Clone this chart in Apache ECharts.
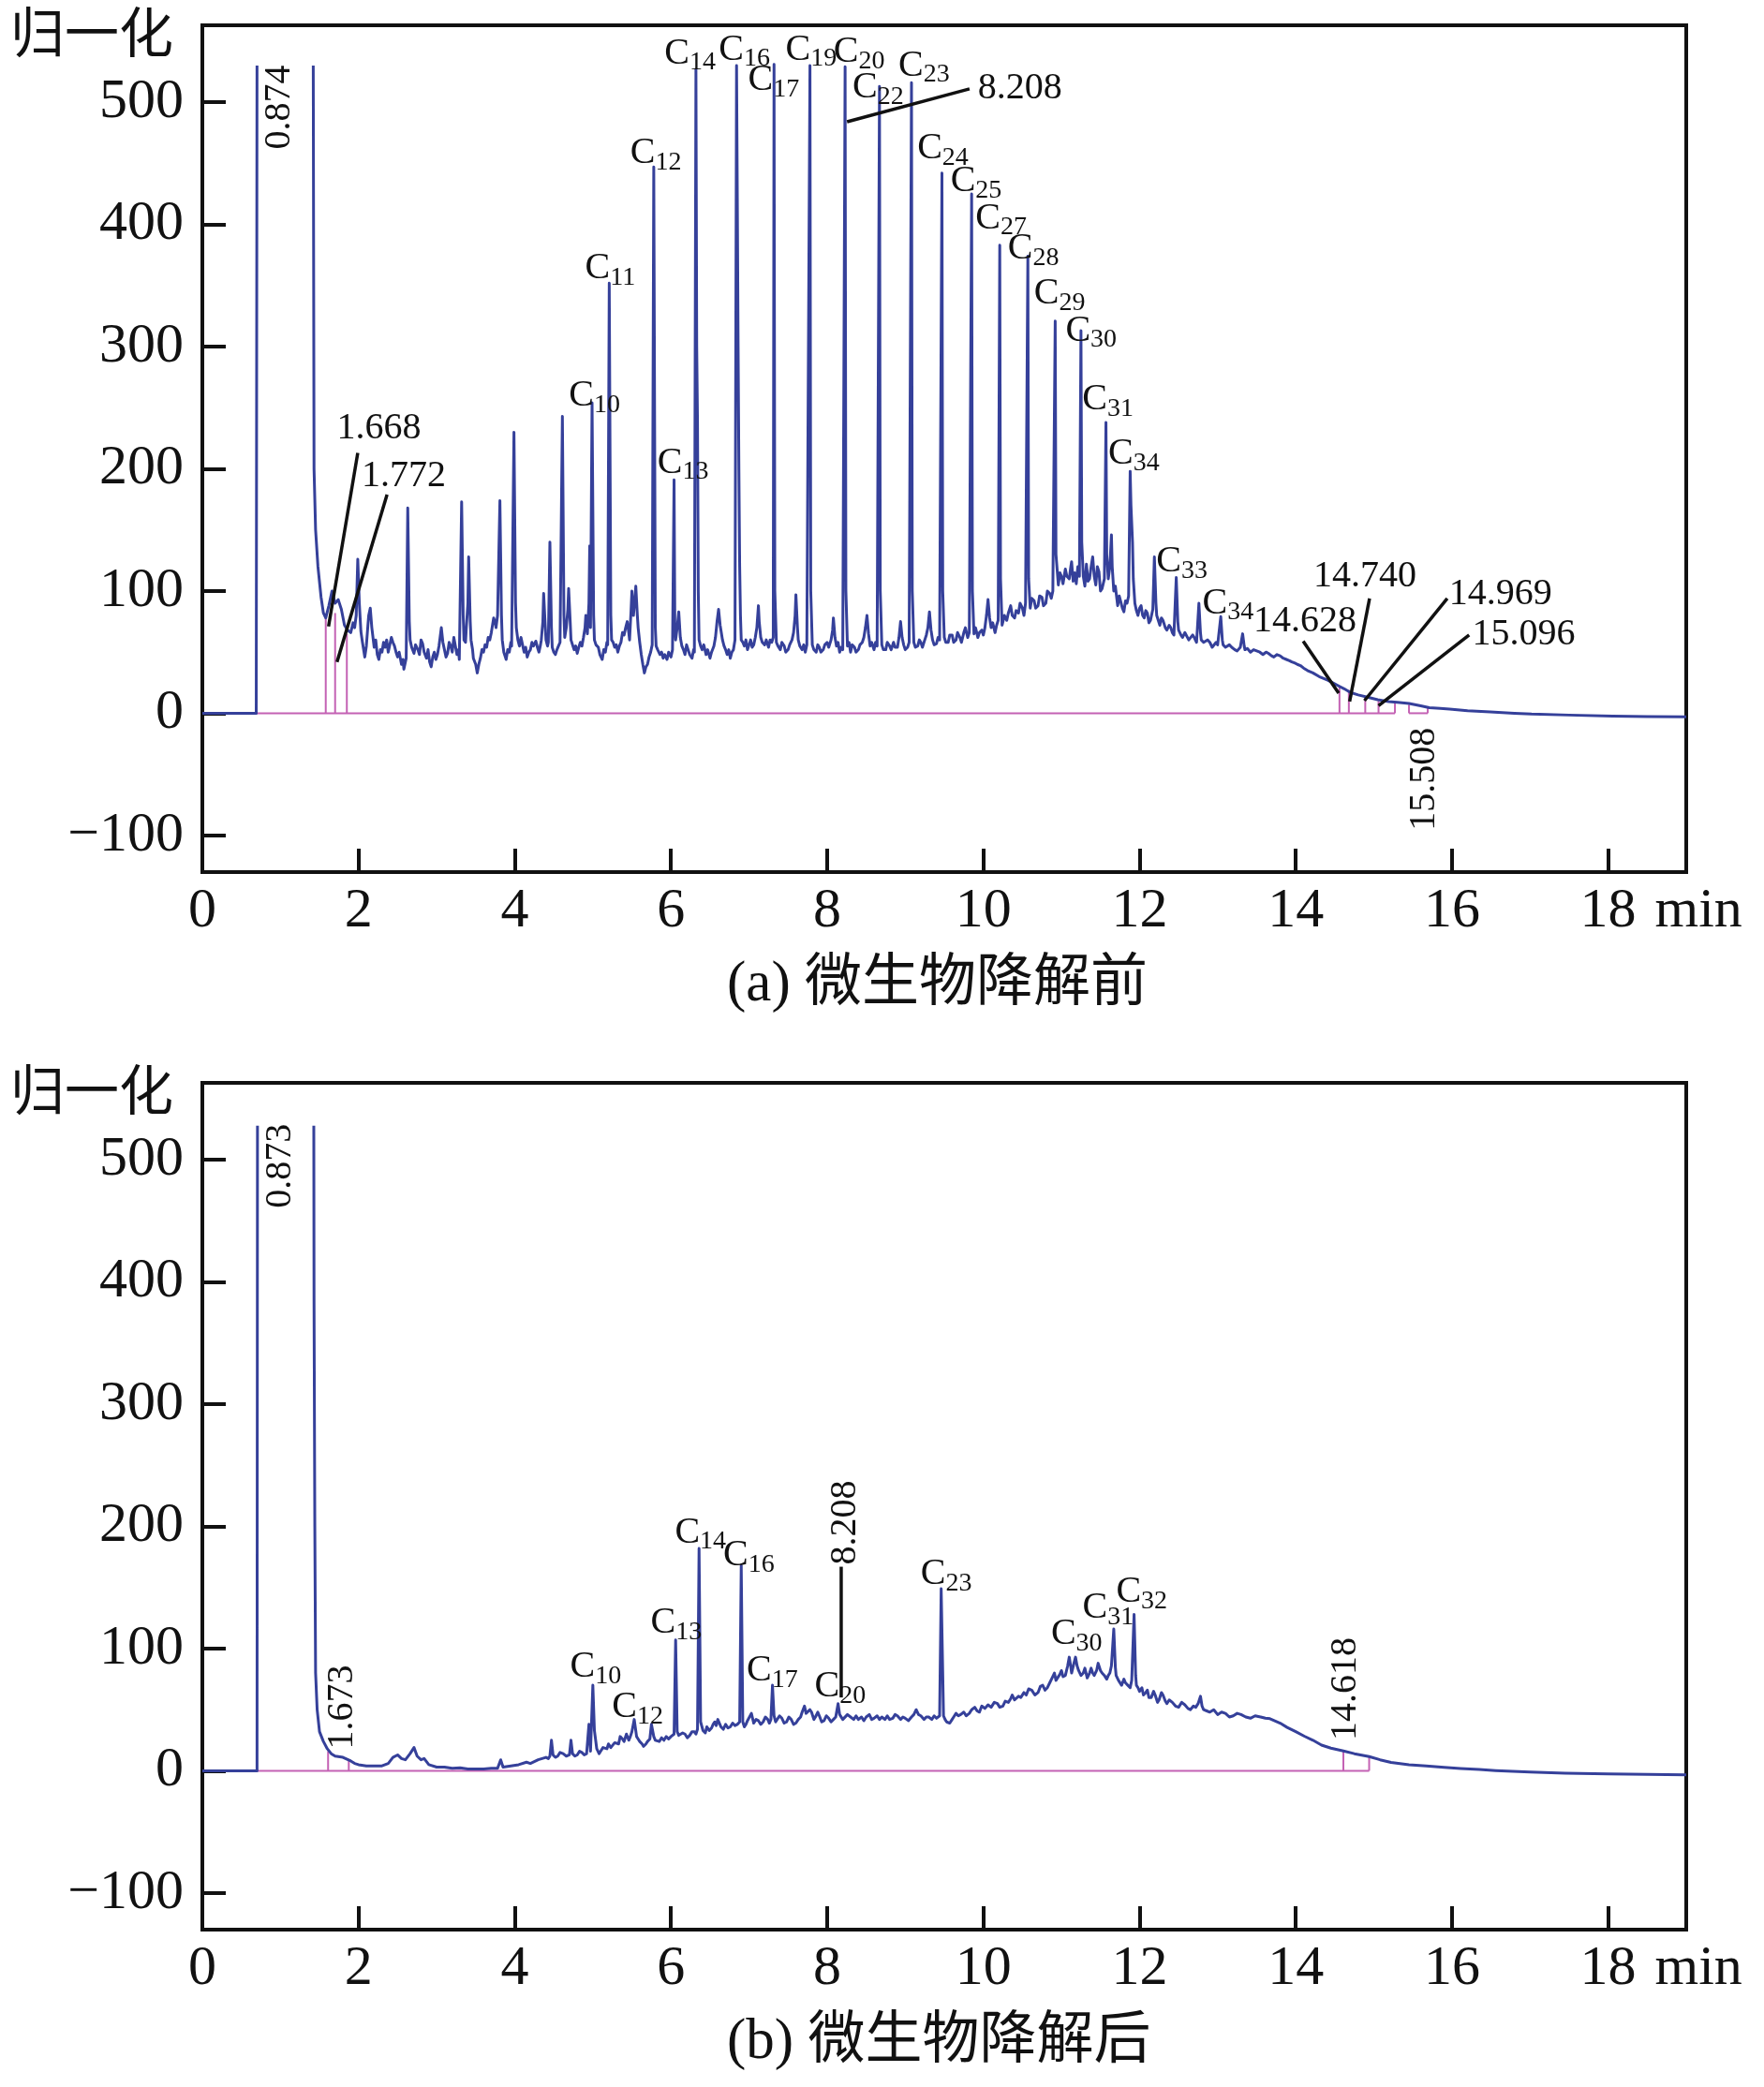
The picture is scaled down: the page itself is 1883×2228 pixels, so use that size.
<!DOCTYPE html>
<html>
<head>
<meta charset="utf-8">
<script src="https://cdn.jsdelivr.net/npm/echarts@6/dist/echarts.min.js"></script>
<style>
  html, body { margin: 0; padding: 0; background: #fff; }
  #chart { width: 1883px; height: 2228px; }
</style>
</head>
<body>
<div id="chart"></div>
<script>
// tick values
const xTicks = [2, 4, 6, 8, 10, 12, 14, 16, 18]
const xLabels = [0, 2, 4, 6, 8, 10, 12, 14, 16, 18]
const yTicks = [-100, 0, 100, 200, 300, 400, 500]

// (a) before degradation: retention time (min), normalised signal
const traceA = [
  [0, 0], [0.69, 0], [0.70, 530], [1.0, null], [1.42, 530], [1.43, 200], [1.45, 150], [1.48, 120], [1.52, 95],
  [1.55, 82], [1.58, 78], [1.62, 88], [1.66, 100], [1.70, 90], [1.74, 93], [1.78, 85], [1.82, 72], [1.86, 68],
  [1.90, 66], [1.93, 74], [1.95, 70], [1.97, 80], [1.99, 126], [2.01, 90], [2.03, 67], [2.05, 58], [2.08, 46],
  [2.10, 55], [2.12, 72], [2.13, 80], [2.15, 86], [2.17, 70], [2.20, 54], [2.22, 60], [2.24, 48], [2.26, 44],
  [2.28, 52], [2.30, 50], [2.32, 58], [2.34, 54], [2.36, 60], [2.38, 50], [2.40, 56], [2.42, 62], [2.44, 58],
  [2.46, 55], [2.48, 50], [2.50, 46], [2.52, 50], [2.55, 40], [2.57, 44], [2.58, 36], [2.60, 42], [2.61, 45],
  [2.63, 168], [2.65, 75], [2.66, 60], [2.68, 54], [2.71, 49], [2.73, 56], [2.76, 52], [2.78, 48], [2.80, 60],
  [2.82, 57], [2.84, 50], [2.87, 45], [2.89, 52], [2.91, 42], [2.93, 38], [2.95, 46], [2.97, 50], [2.99, 44],
  [3.01, 48], [3.03, 55], [3.06, 70], [3.08, 58], [3.10, 52], [3.12, 46], [3.14, 49], [3.16, 58], [3.18, 55],
  [3.20, 50], [3.22, 62], [3.24, 55], [3.26, 48], [3.28, 52], [3.29, 44], [3.32, 173], [3.34, 80], [3.35, 60],
  [3.37, 58], [3.38, 70], [3.40, 90], [3.41, 128], [3.43, 75], [3.44, 60], [3.46, 52], [3.47, 45], [3.50, 40],
  [3.52, 33], [3.54, 40], [3.56, 45], [3.58, 52], [3.60, 50], [3.62, 56], [3.64, 54], [3.66, 62], [3.68, 60],
  [3.70, 66], [3.73, 78], [3.75, 74], [3.76, 70], [3.78, 80], [3.81, 174], [3.83, 80], [3.84, 60], [3.86, 50],
  [3.89, 44], [3.91, 52], [3.93, 50], [3.95, 58], [3.96, 55], [3.99, 230], [4.01, 90], [4.02, 70], [4.04, 60],
  [4.06, 55], [4.08, 62], [4.10, 56], [4.12, 50], [4.14, 54], [4.16, 46], [4.18, 50], [4.20, 52], [4.22, 58],
  [4.24, 55], [4.27, 59], [4.29, 54], [4.31, 50], [4.33, 56], [4.34, 60], [4.36, 75], [4.37, 98], [4.39, 72],
  [4.40, 60], [4.42, 55], [4.43, 58], [4.45, 140], [4.47, 70], [4.48, 54], [4.50, 50], [4.52, 48], [4.54, 52],
  [4.56, 55], [4.58, 58], [4.61, 243], [4.63, 80], [4.64, 62], [4.66, 70], [4.68, 85], [4.69, 102], [4.71, 75],
  [4.72, 60], [4.74, 56], [4.76, 52], [4.78, 55], [4.80, 49], [4.82, 54], [4.84, 58], [4.86, 55], [4.88, 62],
  [4.90, 70], [4.91, 80], [4.93, 65], [4.95, 90], [4.96, 137], [4.97, 70], [4.99, 254], [5.01, 80], [5.02, 60],
  [5.04, 56], [5.07, 54], [5.09, 48], [5.12, 44], [5.14, 52], [5.16, 50], [5.18, 58], [5.19, 56], [5.21, 352],
  [5.23, 80], [5.24, 60], [5.26, 58], [5.28, 54], [5.30, 56], [5.32, 50], [5.34, 55], [5.36, 58], [5.38, 66],
  [5.40, 64], [5.42, 70], [5.44, 75], [5.46, 66], [5.47, 60], [5.49, 85], [5.50, 100], [5.52, 80], [5.54, 95],
  [5.55, 104], [5.57, 80], [5.58, 70], [5.60, 58], [5.62, 48], [5.64, 40], [5.66, 33], [5.68, 38], [5.70, 40],
  [5.72, 46], [5.74, 50], [5.76, 56], [5.78, 447], [5.80, 70], [5.81, 55], [5.83, 52], [5.86, 48], [5.88, 50],
  [5.90, 45], [5.92, 48], [5.95, 44], [5.97, 50], [6.00, 46], [6.02, 52], [6.04, 191], [6.05, 70], [6.06, 60],
  [6.08, 70], [6.10, 83], [6.12, 62], [6.14, 55], [6.16, 52], [6.18, 48], [6.20, 56], [6.22, 52], [6.24, 48],
  [6.27, 45], [6.29, 52], [6.30, 50], [6.32, 527], [6.33, 300], [6.34, 239], [6.35, 100], [6.36, 60], [6.38, 55],
  [6.40, 52], [6.42, 56], [6.45, 48], [6.47, 52], [6.50, 45], [6.52, 50], [6.55, 55], [6.57, 62], [6.59, 75],
  [6.61, 85], [6.63, 72], [6.64, 68], [6.66, 60], [6.68, 55], [6.70, 52], [6.72, 48], [6.74, 52], [6.76, 45],
  [6.78, 50], [6.80, 52], [6.82, 60], [6.84, 530], [6.85, 420], [6.86, 300], [6.87, 200], [6.88, 120], [6.89, 80],
  [6.90, 60], [6.92, 58], [6.94, 55], [6.96, 60], [6.98, 52], [7.00, 56], [7.02, 60], [7.04, 54], [7.06, 56],
  [7.08, 62], [7.10, 70], [7.12, 88], [7.13, 75], [7.15, 62], [7.17, 58], [7.20, 56], [7.22, 60], [7.25, 54],
  [7.27, 60], [7.29, 58], [7.31, 62], [7.32, 531], [7.33, 100], [7.35, 58], [7.37, 55], [7.40, 52], [7.42, 58],
  [7.45, 55], [7.47, 50], [7.50, 52], [7.52, 56], [7.55, 60], [7.57, 66], [7.59, 80], [7.60, 97], [7.62, 70],
  [7.63, 60], [7.65, 55], [7.68, 52], [7.70, 56], [7.72, 50], [7.74, 56], [7.75, 55], [7.78, 530], [7.79, 100],
  [7.81, 56], [7.83, 52], [7.86, 50], [7.88, 56], [7.90, 54], [7.92, 50], [7.95, 52], [7.97, 56], [8.00, 58],
  [8.02, 54], [8.05, 60], [8.07, 68], [8.08, 78], [8.10, 62], [8.12, 55], [8.14, 58], [8.16, 50], [8.18, 54],
  [8.20, 52], [8.23, 529], [8.24, 100], [8.26, 55], [8.28, 58], [8.30, 50], [8.32, 56], [8.35, 54], [8.37, 50],
  [8.40, 52], [8.42, 56], [8.45, 58], [8.47, 62], [8.49, 70], [8.51, 80], [8.53, 65], [8.55, 55], [8.57, 58],
  [8.60, 52], [8.62, 58], [8.64, 55], [8.67, 513], [8.68, 100], [8.70, 56], [8.72, 52], [8.75, 52], [8.77, 58],
  [8.80, 55], [8.82, 52], [8.85, 58], [8.87, 54], [8.90, 54], [8.92, 62], [8.94, 75], [8.96, 62], [8.98, 56],
  [9.00, 52], [9.03, 54], [9.05, 58], [9.08, 516], [9.09, 100], [9.11, 58], [9.13, 54], [9.16, 55], [9.18, 60],
  [9.20, 58], [9.22, 54], [9.25, 60], [9.27, 64], [9.29, 70], [9.31, 83], [9.33, 68], [9.35, 60], [9.37, 56],
  [9.40, 57], [9.42, 62], [9.44, 60], [9.47, 442], [9.48, 100], [9.50, 62], [9.52, 58], [9.55, 58], [9.57, 64],
  [9.60, 64], [9.62, 58], [9.65, 60], [9.67, 66], [9.70, 62], [9.72, 58], [9.75, 66], [9.77, 70], [9.80, 62],
  [9.82, 66], [9.85, 425], [9.86, 100], [9.88, 65], [9.90, 70], [9.93, 62], [9.95, 66], [9.98, 68], [10.00, 64],
  [10.02, 70], [10.04, 80], [10.06, 93], [10.08, 78], [10.10, 70], [10.12, 74], [10.15, 66], [10.17, 72],
  [10.19, 76], [10.21, 383], [10.22, 110], [10.24, 72], [10.27, 80], [10.30, 76], [10.32, 82], [10.35, 88],
  [10.37, 80], [10.40, 78], [10.42, 84], [10.45, 82], [10.47, 90], [10.50, 86], [10.52, 80], [10.54, 90],
  [10.57, 374], [10.58, 110], [10.60, 86], [10.62, 94], [10.65, 92], [10.67, 86], [10.70, 88], [10.72, 96],
  [10.75, 95], [10.77, 88], [10.80, 90], [10.82, 100], [10.85, 98], [10.87, 94], [10.89, 100], [10.92, 321],
  [10.93, 130], [10.96, 105], [10.98, 115], [11.00, 112], [11.02, 106], [11.05, 118], [11.07, 112], [11.10, 110],
  [11.12, 120], [11.13, 124], [11.15, 108], [11.17, 115], [11.19, 106], [11.21, 120], [11.23, 112], [11.25, 313],
  [11.26, 140], [11.28, 112], [11.30, 104], [11.32, 122], [11.34, 108], [11.36, 110], [11.38, 120], [11.40, 128],
  [11.42, 112], [11.44, 105], [11.46, 120], [11.48, 116], [11.50, 100], [11.52, 102], [11.55, 110], [11.57, 238],
  [11.58, 130], [11.60, 110], [11.62, 120], [11.64, 146], [11.65, 120], [11.67, 100], [11.69, 104], [11.72, 88],
  [11.74, 96], [11.76, 97], [11.78, 86], [11.80, 83], [11.82, 92], [11.84, 90], [11.86, 96], [11.88, 198],
  [11.89, 170], [11.91, 140], [11.92, 110], [11.94, 90], [11.96, 84], [11.98, 80], [12.00, 86], [12.02, 88],
  [12.04, 80], [12.06, 78], [12.08, 84], [12.10, 82], [12.12, 74], [12.14, 76], [12.17, 85], [12.19, 128],
  [12.21, 90], [12.22, 80], [12.24, 76], [12.26, 72], [12.28, 78], [12.30, 76], [12.33, 70], [12.35, 68],
  [12.38, 72], [12.40, 70], [12.42, 66], [12.44, 64], [12.47, 111], [12.49, 75], [12.50, 68], [12.53, 64],
  [12.55, 62], [12.58, 66], [12.60, 66], [12.63, 60], [12.65, 60], [12.68, 64], [12.70, 62], [12.73, 58],
  [12.76, 90], [12.78, 66], [12.79, 60], [12.82, 58], [12.84, 57], [12.87, 60], [12.90, 58], [12.93, 54],
  [12.95, 55], [12.98, 58], [13.00, 56], [13.04, 79], [13.06, 60], [13.07, 56], [13.10, 54], [13.12, 53],
  [13.15, 56], [13.18, 54], [13.22, 52], [13.25, 51], [13.29, 54], [13.32, 65], [13.34, 55], [13.35, 52],
  [13.38, 53], [13.42, 50], [13.46, 52], [13.50, 51], [13.54, 50], [13.58, 48], [13.62, 50], [13.65, 49],
  [13.69, 47], [13.72, 46], [13.76, 48], [13.80, 47], [13.84, 45], [13.88, 44], [13.92, 43], [13.95, 42],
  [13.99, 41], [14.02, 40], [14.06, 39], [14.10, 37], [14.15, 35], [14.22, 33], [14.30, 30], [14.41, 27],
  [14.50, 24], [14.56, 22], [14.62, 20], [14.70, 17], [14.80, 15], [14.93, 13], [15.05, 11], [15.19, 9.6],
  [15.30, 9], [15.45, 8], [15.60, 6], [15.71, 4.5], [15.85, 4], [15.97, 3.4], [16.20, 2], [16.49, 1],
  [16.80, 0], [17.02, -0.7], [17.50, -1.5], [18.06, -2.4], [18.50, -2.8], [19.00, -3]
]
// integration baseline pieces [from, to] and boundary marks [t, height]
const pinkBaseA = [[0.68, 15.27], [15.45, 15.69]]
const pinkMarksA = [[1.58, 78], [1.70, 82], [1.85, 65], [14.56, 22], [14.68, 19], [14.89, 13], [15.06, 10],
  [15.27, 8], [15.45, 7], [15.69, 5]]
// leader lines [t1, v1, t2, v2]
const leadersA = [[1.99, 213, 1.616, 71], [2.365, 179, 1.724, 42], [8.255, 484, 9.823, 511],
  [14.095, 59, 14.55, 16.5], [14.945, 94, 14.69, 9.6], [15.94, 94, 14.88, 10.3], [16.22, 64, 15.06, 6.2]]
// peak names: [t, v, carbon number]
const peakNamesA = [[4.693, 260, '10'], [4.901, 364, '11'], [5.479, 458, '12'], [5.826, 205, '13'],
  [5.917, 540, '14'], [6.612, 543, '16'], [6.987, 518, '17'], [7.468, 543, '19'], [8.083, 541, '20'],
  [8.325, 512, '22'], [8.913, 530, '23'], [9.154, 462, '24'], [9.58, 435, '25'], [9.90, 405, '27'],
  [10.314, 380, '28'], [10.65, 343, '29'], [11.052, 313, '30'], [11.267, 257, '31'], [11.60, 212, '34'],
  [12.214, 124, '33'], [12.805, 90, '34']]
const timeTextA = [[1.72, 233, '1.668'], [2.04, 194, '1.772'], [9.928, 511, '8.208'], [13.457, 75, '14.628'],
  [14.225, 112, '14.740'], [15.963, 97, '14.969'], [16.26, 64, '15.096']]
const timeTextUpA = [[0.984, 496, '0.874'], [15.645, -54, '15.508']]

// (b) after degradation
const traceB = [
  [0, 0], [0.70, 0], [0.706, 528], [1.0, null], [1.427, 528], [1.43, 385], [1.44, 200], [1.45, 80], [1.47, 50],
  [1.50, 32], [1.55, 24], [1.60, 18], [1.65, 14], [1.70, 12], [1.80, 11], [1.90, 8], [1.95, 6], [2.00, 5],
  [2.10, 4], [2.20, 4], [2.30, 4], [2.38, 6], [2.44, 11], [2.50, 13], [2.55, 10], [2.60, 9], [2.66, 14],
  [2.71, 19], [2.75, 12], [2.80, 9], [2.84, 10], [2.90, 5], [3.00, 3], [3.10, 3], [3.20, 2], [3.30, 2.5],
  [3.40, 1.5], [3.50, 1.5], [3.60, 1.5], [3.70, 2], [3.78, 2], [3.82, 9], [3.85, 3], [3.95, 4], [4.05, 5],
  [4.15, 7], [4.20, 6], [4.30, 9], [4.40, 11], [4.43, 10], [4.45, 12], [4.47, 25], [4.49, 13], [4.52, 11],
  [4.55, 12], [4.58, 15], [4.62, 14], [4.66, 12], [4.70, 13], [4.72, 25], [4.74, 14], [4.77, 12], [4.80, 13],
  [4.83, 16], [4.86, 15], [4.89, 13], [4.92, 14], [4.95, 38], [4.97, 16], [5.00, 70], [5.02, 33], [5.05, 18],
  [5.08, 14], [5.10, 16], [5.13, 19], [5.15, 20], [5.18, 18], [5.20, 22], [5.23, 19], [5.25, 20], [5.28, 23],
  [5.30, 24], [5.33, 22], [5.35, 28], [5.38, 26], [5.40, 24], [5.43, 30], [5.46, 25], [5.48, 28], [5.50, 32],
  [5.53, 42], [5.56, 28], [5.58, 26], [5.60, 24], [5.63, 22], [5.65, 20], [5.68, 22], [5.70, 24], [5.73, 26],
  [5.75, 38], [5.78, 28], [5.80, 25], [5.82, 26], [5.85, 24], [5.88, 27], [5.91, 25], [5.94, 28], [5.97, 26],
  [6.00, 28], [6.02, 27], [6.04, 30], [6.06, 107], [6.08, 32], [6.10, 29], [6.12, 28], [6.15, 31], [6.18, 30],
  [6.21, 27], [6.24, 29], [6.27, 32], [6.30, 32], [6.32, 30], [6.34, 34], [6.36, 182], [6.38, 40], [6.41, 33],
  [6.44, 31], [6.46, 36], [6.49, 33], [6.52, 35], [6.54, 38], [6.56, 40], [6.58, 37], [6.60, 42], [6.62, 39],
  [6.64, 36], [6.67, 34], [6.70, 38], [6.73, 35], [6.76, 36], [6.79, 39], [6.82, 37], [6.85, 38], [6.88, 40],
  [6.90, 168], [6.92, 40], [6.94, 36], [6.96, 38], [6.98, 41], [7.00, 40], [7.03, 47], [7.06, 39], [7.09, 42],
  [7.12, 41], [7.15, 38], [7.18, 40], [7.21, 44], [7.24, 42], [7.26, 39], [7.28, 42], [7.30, 70], [7.32, 45],
  [7.34, 40], [7.36, 41], [7.39, 45], [7.42, 43], [7.45, 39], [7.48, 40], [7.51, 44], [7.54, 42], [7.57, 38],
  [7.60, 39], [7.63, 42], [7.66, 44], [7.68, 48], [7.71, 53], [7.73, 47], [7.75, 46], [7.78, 50], [7.80, 48],
  [7.83, 42], [7.85, 44], [7.88, 48], [7.90, 45], [7.93, 40], [7.96, 41], [7.99, 45], [8.02, 43], [8.05, 40],
  [8.08, 42], [8.11, 44], [8.14, 55], [8.16, 46], [8.17, 45], [8.20, 42], [8.22, 43], [8.26, 46], [8.30, 44],
  [8.34, 42], [8.37, 45], [8.40, 42], [8.44, 44], [8.47, 41], [8.50, 44], [8.54, 46], [8.57, 42], [8.60, 43],
  [8.64, 45], [8.67, 42], [8.70, 44], [8.74, 42], [8.77, 45], [8.80, 42], [8.84, 43], [8.87, 46], [8.90, 45],
  [8.94, 42], [8.97, 44], [9.00, 43], [9.04, 41], [9.08, 44], [9.11, 46], [9.14, 50], [9.17, 46], [9.20, 45],
  [9.24, 42], [9.27, 44], [9.30, 44], [9.34, 42], [9.37, 45], [9.40, 43], [9.44, 45], [9.46, 149], [9.49, 45],
  [9.51, 42], [9.53, 40], [9.57, 39], [9.60, 42], [9.62, 44], [9.65, 47], [9.68, 45], [9.71, 46], [9.75, 48],
  [9.78, 45], [9.82, 47], [9.85, 50], [9.89, 52], [9.92, 49], [9.95, 48], [9.98, 53], [10.02, 51], [10.06, 54],
  [10.10, 52], [10.14, 56], [10.18, 55], [10.21, 52], [10.25, 53], [10.28, 57], [10.32, 56], [10.35, 59],
  [10.37, 62], [10.40, 58], [10.42, 57], [10.45, 61], [10.48, 60], [10.52, 64], [10.55, 62], [10.58, 67],
  [10.62, 66], [10.66, 62], [10.70, 64], [10.73, 69], [10.76, 70], [10.79, 66], [10.82, 68], [10.85, 72],
  [10.88, 76], [10.91, 80], [10.93, 74], [10.95, 75], [10.98, 79], [11.00, 82], [11.02, 77], [11.05, 78],
  [11.08, 86], [11.10, 93], [11.12, 85], [11.13, 80], [11.16, 88], [11.18, 93], [11.20, 86], [11.22, 82],
  [11.25, 78], [11.28, 80], [11.30, 84], [11.33, 76], [11.36, 80], [11.38, 84], [11.40, 80], [11.42, 78],
  [11.45, 82], [11.47, 88], [11.50, 82], [11.52, 80], [11.55, 78], [11.58, 75], [11.60, 78], [11.62, 80],
  [11.64, 86], [11.67, 116], [11.69, 85], [11.70, 78], [11.73, 74], [11.77, 70], [11.80, 75], [11.82, 72],
  [11.85, 70], [11.88, 68], [11.90, 74], [11.93, 128], [11.95, 78], [11.96, 70], [11.98, 68], [12.00, 65],
  [12.03, 68], [12.05, 62], [12.08, 64], [12.10, 66], [12.12, 60], [12.15, 60], [12.18, 65], [12.20, 62],
  [12.23, 56], [12.25, 58], [12.28, 64], [12.30, 62], [12.33, 57], [12.35, 55], [12.38, 58], [12.42, 56],
  [12.46, 53], [12.50, 52], [12.54, 56], [12.58, 54], [12.62, 51], [12.65, 50], [12.69, 53], [12.72, 52],
  [12.75, 55], [12.78, 61], [12.80, 53], [12.82, 50], [12.86, 49], [12.90, 48], [12.95, 50], [13.00, 46],
  [13.05, 48], [13.10, 47], [13.15, 44], [13.20, 45], [13.25, 47], [13.30, 46], [13.36, 44], [13.42, 43],
  [13.48, 45], [13.55, 44], [13.61, 43], [13.67, 42.6], [13.80, 39], [13.89, 35.5], [14.00, 32], [14.11, 28.3],
  [14.22, 25], [14.33, 21], [14.45, 18.5], [14.61, 16.2], [14.75, 14], [14.94, 11.6], [15.08, 9], [15.22, 6.8],
  [15.45, 5], [15.67, 3.9], [15.90, 2.8], [16.11, 1.9], [16.35, 1], [16.56, 0.2], [17.00, -1], [17.45, -1.9],
  [18.00, -2.6], [18.50, -3], [19.00, -3.3]
]
const pinkBaseB = [[0.70, 14.94]]
const pinkMarksB = [[1.61, 16], [1.875, 9], [14.61, 16], [14.94, 12]]
const leadersB = [[8.18, 167, 8.18, 60]]
const peakNamesB = [[4.708, 85, '10'], [5.245, 52, '12'], [5.74, 121, '13'], [6.05, 195, '14'],
  [6.67, 176, '16'], [6.97, 82, '17'], [7.84, 69, '20'], [9.197, 161, '23'], [10.866, 112, '30'],
  [11.27, 133, '31'], [11.70, 146, '32']]
const timeTextB = []
const timeTextUpB = [[0.996, 495, '0.873'], [1.788, 52, '1.673'], [8.235, 203, '8.208'], [14.64, 67, '14.618']]

const FONT = "'Liberation Serif', 'Times New Roman', 'Noto Sans CJK SC', serif"
const INK = '#111'
const BLUE = '#35409a'
const PINK = '#c462b4'

const chart = echarts.init(document.getElementById('chart'), null, { renderer: 'canvas' })

function grid (top) {
  return { left: 216, top: top, width: 1584, height: 904, show: true, borderColor: INK, borderWidth: 4, backgroundColor: 'transparent' }
}

function xAxis (gi) {
  return {
    gridIndex: gi, type: 'value', min: 0, max: 19,
    axisLine: { show: false, onZero: false }, splitLine: { show: false },
    axisTick: { inside: true, length: 25, lineStyle: { color: INK, width: 4 }, customValues: xTicks },
    axisLabel: {
      customValues: xLabels, color: INK, fontFamily: FONT, fontSize: 60, margin: 12,
      formatter: v => v === 18 ? '{m|18 \u200amin}' : String(v),
      rich: { m: { fontFamily: FONT, fontSize: 60, color: INK, padding: [0, 0, 0, 113] } }
    }
  }
}

function yAxis (gi) {
  return {
    gridIndex: gi, type: 'value', min: -130, max: 563,
    axisLine: { show: false, onZero: false }, splitLine: { show: false },
    axisTick: { inside: true, length: 25, lineStyle: { color: INK, width: 4 }, customValues: yTicks },
    axisLabel: {
      customValues: yTicks, color: INK, fontFamily: FONT, fontSize: 60, margin: 20,
      formatter: v => String(v).replace('-', '\u2212')
    }
  }
}

function segSeries (gi, segs, color, width, z) {
  return {
    type: 'custom', xAxisIndex: gi, yAxisIndex: gi, z: z, silent: true, clip: false,
    data: segs,
    encode: { x: [0, 2], y: [1, 3] },
    renderItem: function (params, api) {
      const a = api.coord([api.value(0), api.value(1)])
      const b = api.coord([api.value(2), api.value(3)])
      return { type: 'line', shape: { x1: a[0], y1: a[1], x2: b[0], y2: b[1] }, style: { stroke: color, lineWidth: width } }
    }
  }
}

function textSeries (gi, items, build) {
  return {
    type: 'custom', xAxisIndex: gi, yAxisIndex: gi, z: 10, silent: true, clip: false,
    data: items.map(d => [d[0], d[1]]),
    renderItem: function (params, api) {
      const p = api.coord([api.value(0), api.value(1)])
      return build(items[params.dataIndex], p)
    }
  }
}

const subRich = {
  c: { fontFamily: FONT, fontSize: 40, lineHeight: 40, verticalAlign: 'top', fill: INK, color: INK },
  s: { fontFamily: FONT, fontSize: 28, lineHeight: 28, verticalAlign: 'top', padding: [16, 0, 0, 0], fill: INK, color: INK }
}

function panelSeries (gi, trace, pinkBase, pinkMarks, leaders, names, texts, upTexts) {
  const pinkSegs = pinkBase.map(s => [s[0], 0, s[1], 0]).concat(pinkMarks.map(m => [m[0], 0, m[0], m[1]]))
  return [
    segSeries(gi, pinkSegs, PINK, 2, 2),
    {
      type: 'line', xAxisIndex: gi, yAxisIndex: gi, data: trace, showSymbol: false, connectNulls: false,
      lineStyle: { color: BLUE, width: 3, join: 'round' }, z: 3, silent: true
    },
    segSeries(gi, leaders, INK, 3.5, 5),
    textSeries(gi, names, (d, p) => ({
      type: 'text', x: p[0], y: p[1],
      style: { text: '{c|C}{s|' + d[2] + '}', rich: subRich, align: 'left', verticalAlign: 'middle', fill: INK }
    })),
    textSeries(gi, texts, (d, p) => ({
      type: 'text', x: p[0], y: p[1],
      style: { text: d[2], font: '40px ' + FONT, align: 'left', verticalAlign: 'middle', fill: INK }
    })),
    textSeries(gi, upTexts, (d, p) => ({
      type: 'text', x: p[0], y: p[1], rotation: Math.PI / 2,
      style: { text: d[2], font: '40px ' + FONT, align: 'center', verticalAlign: 'middle', fill: INK }
    }))
  ]
}

const option = {
  animation: false,
  backgroundColor: '#fff',
  title: [
    { text: '归一化', left: 11, top: 11, textStyle: { fontFamily: FONT, fontSize: 58, fontWeight: 'normal', color: INK, lineHeight: 60 }, padding: 0 },
    { text: '归一化', left: 11, top: 1140, textStyle: { fontFamily: FONT, fontSize: 58, fontWeight: 'normal', color: INK, lineHeight: 60 }, padding: 0 },
    { text: '(a) 微生物降解前', left: 776, top: 1022, textStyle: { fontFamily: FONT, fontSize: 61, fontWeight: 'normal', color: INK, lineHeight: 60 }, padding: 0 },
    { text: '(b) 微生物降解后', left: 776, top: 2151, textStyle: { fontFamily: FONT, fontSize: 61, fontWeight: 'normal', color: INK, lineHeight: 60 }, padding: 0 }
  ],
  grid: [grid(27), grid(1156)],
  xAxis: [xAxis(0), xAxis(1)],
  yAxis: [yAxis(0), yAxis(1)],
  series: panelSeries(0, traceA, pinkBaseA, pinkMarksA, leadersA, peakNamesA, timeTextA, timeTextUpA)
    .concat(panelSeries(1, traceB, pinkBaseB, pinkMarksB, leadersB, peakNamesB, timeTextB, timeTextUpB))
}

chart.setOption(option)
</script>
</body>
</html>
